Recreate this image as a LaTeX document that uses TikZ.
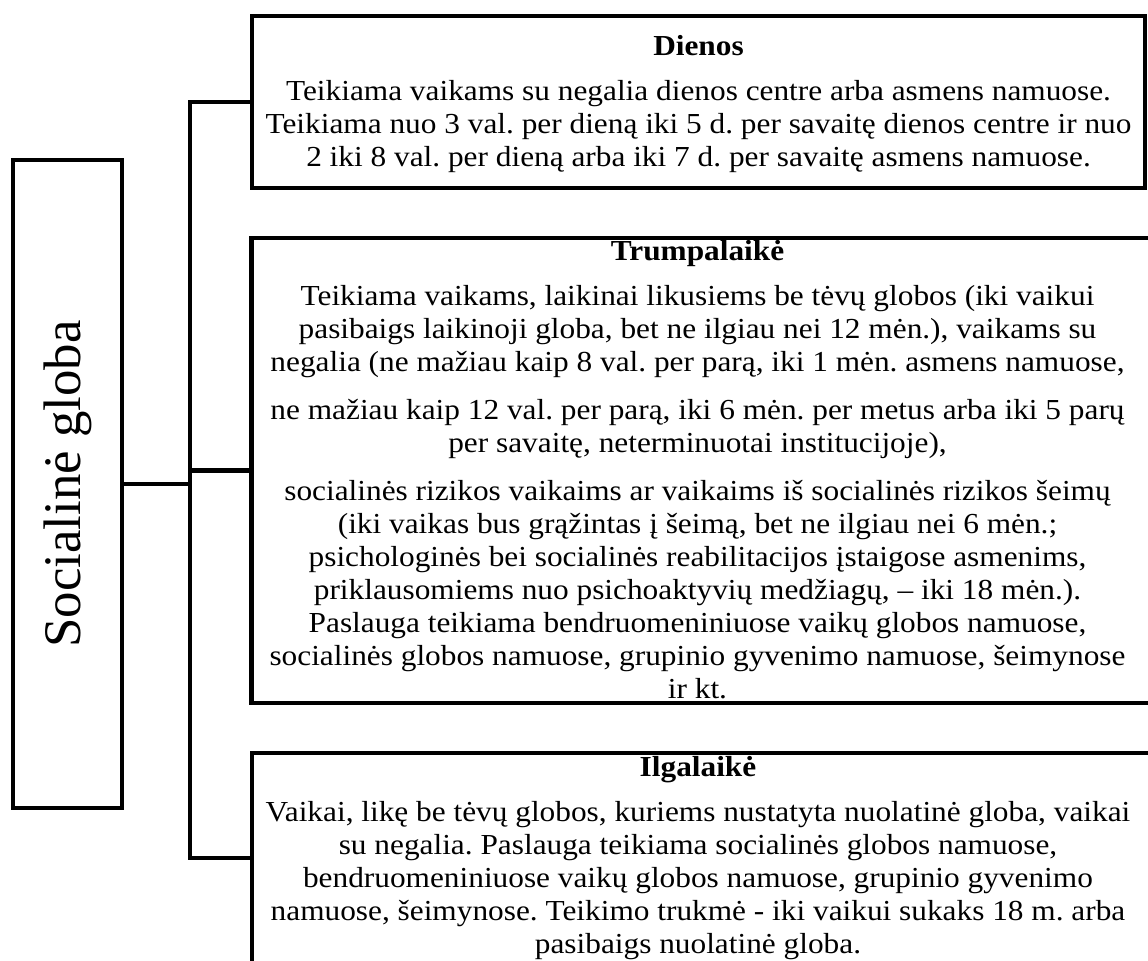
\documentclass[tikz,border=0pt]{standalone}
\usepackage{fontspec}
\setmainfont{Liberation Serif}[FakeStretch=1.08]
\newfontfamily\sidefont{Liberation Serif}
\usetikzlibrary{positioning}
\frenchspacing

\begin{document}
\begin{tikzpicture}[
    x=0.5pt, y=-0.5pt,
    box/.style={draw, line width=2.2pt, inner sep=0pt},
    body/.style={align=center, inner sep=0pt, font=\fontsize{14.5pt}{16.5pt}\selectfont},
    side/.style={rotate=90, inner sep=0pt, font=\sidefont\fontsize{26.4pt}{30pt}\selectfont},
    link/.style={line width=2.2pt}
]
\useasboundingbox (0,0) rectangle (1148,961);

% ---- Socialine globa ----
\node[box, minimum width=54.5pt, minimum height=324pt] (soc) at (67.5,484) {};
\node[side] (socT) at (soc.center) {Socialinė globa};

% ---- Dienos ----
\node[box, minimum width=446.5pt, minimum height=86pt] (dienos) at (698.5,102) {};
\node[body, below=10.6pt of dienos.north] (dienosT) {\textbf{Dienos}\\[6pt]
Teikiama vaikams su negalia dienos centre arba asmens namuose.\\
Teikiama nuo 3 val. per dieną iki 5 d. per savaitę dienos centre ir nuo\\
2 iki 8 val. per dieną arba iki 7 d. per savaitę asmens namuose.};

% ---- Trumpalaike ----
\node[box, minimum width=450pt, minimum height=232.5pt] (trump) at (701.5,470.5) {};
\node[body, below=2.1pt of trump.north, xshift=-2pt] (trumpT) {\textbf{Trumpalaikė}\\[6pt]
Teikiama vaikams, laikinai likusiems be tėvų globos (iki vaikui\\
pasibaigs laikinoji globa, bet ne ilgiau nei 12 mėn.), vaikams su\\
negalia (ne mažiau kaip 8 val. per parą, iki 1 mėn. asmens namuose,\\[7.5pt]
ne mažiau kaip 12 val. per parą, iki 6 mėn. per metus arba iki 5 parų\\
per savaitę, neterminuotai institucijoje),\\[7.5pt]
socialinės rizikos vaikaims ar vaikaims iš socialinės rizikos šeimų\\
(iki vaikas bus grąžintas į šeimą, bet ne ilgiau nei 6 mėn.;\\
psichologinės bei socialinės reabilitacijos įstaigose asmenims,\\
priklausomiems nuo psichoaktyvių medžiagų, – iki 18 mėn.).\\
Paslauga teikiama bendruomeniniuose vaikų globos namuose,\\
socialinės globos namuose, grupinio gyvenimo namuose, šeimynose\\
ir kt.};

% ---- Ilgalaike ----
\node[box, minimum width=451pt, minimum height=105pt] (ilga) at (703,858) {};
\node[body, below=2.6pt of ilga.north, xshift=-2.5pt] (ilgaT) {\textbf{Ilgalaikė}\\[6pt]
Vaikai, likę be tėvų globos, kuriems nustatyta nuolatinė globa, vaikai\\
su negalia. Paslauga teikiama socialinės globos namuose,\\
bendruomeniniuose vaikų globos namuose, grupinio gyvenimo\\
namuose, šeimynose. Teikimo trukmė - iki vaikui sukaks 18 m. arba\\
pasibaigs nuolatinė globa.};

% Connectors
\coordinate[right=33pt of soc.east] (hub);
\draw[link] (soc.east) -- (hub);
\draw[link] (dienos.west) -| (hub) |- (ilga.west);
\draw[link] (trump.west) -- (trump.west -| hub);
\end{tikzpicture}
\end{document}
